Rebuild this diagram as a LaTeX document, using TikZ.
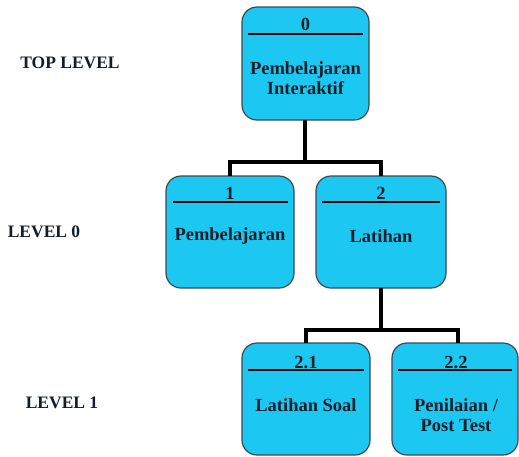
\documentclass[tikz,border=0pt]{standalone}
\usepackage{fontspec}
\setmainfont{Liberation Serif}
\definecolor{boxcyan}{HTML}{1CC8F2}
\definecolor{boxedge}{HTML}{3A4A50}
\definecolor{ink}{HTML}{141E28}
\begin{document}
\begin{tikzpicture}[x=1pt,y=-1pt,
  procbox/.style={draw=boxedge, line width=1.2pt, fill=boxcyan, rounded corners=15pt},
  rule/.style={line width=1.6pt, black},
  conn/.style={line width=3.5pt, black},
  txt/.style={font=\bfseries\fontsize{18.5}{20}\selectfont, text=ink, inner sep=0pt, align=center},
  lvl/.style={font=\bfseries\fontsize{17.5}{20}\selectfont, text=ink, inner sep=0pt}]
\useasboundingbox (0,0) rectangle (519,456);
\coordinate (j0) at (305,162);
\coordinate (j0l) at (230,162);
\coordinate (j0r) at (381,162);
\coordinate (j1) at (381,330);
\coordinate (j1l) at (306,330);
\coordinate (j1r) at (458,330);
% boxes
\draw[procbox] (242,7) rectangle (369,120);
\node[txt] (n0) at (305.5,24) {0};
\draw[rule] (248,34) -- (363,34);
\node[txt] (t0) at (305.5,78) {Pembelajaran\\Interaktif};

\draw[procbox] (166,176) rectangle (294,288);
\node[txt] (n1) at (230,193) {1};
\draw[rule] (173,202) -- (288,202);
\node[txt] (t1) at (230,236) {Pembelajaran};

\draw[procbox] (316,176) rectangle (446,288);
\node[txt] (n2) at (381,193) {2};
\draw[rule] (322,202) -- (440,202);
\node[txt] (t2) at (381,236) {Latihan};

\draw[procbox] (242,343) rectangle (370,455);
\node[txt] (n21) at (306,362) {2.1};
\draw[rule] (248,370) -- (364,370);
\node[txt] (t21) at (306,405) {Latihan Soal};

\draw[procbox] (392,343) rectangle (518,455);
\node[txt] (n22) at (456,362) {2.2};
\draw[rule] (398,370) -- (512,370);
\node[txt] (t22) at (456,415) {Penilaian /\\Post Test};

% connectors
\draw[conn] (305,120) -- (j0);
\draw[conn, line join=miter] (230,176) -- (j0l) -- (j0r) -- (381,176);
\draw[conn] (381,288) -- (j1);
\draw[conn, line join=miter] (306,343) -- (j1l) -- (j1r) -- (458,343);

% level labels
\node[lvl] (l0) at (70,63) {TOP LEVEL};
\node[lvl] (l1) at (44,232) {LEVEL 0};
\node[lvl] (l2) at (62,403) {LEVEL 1};
\end{tikzpicture}
\end{document}
